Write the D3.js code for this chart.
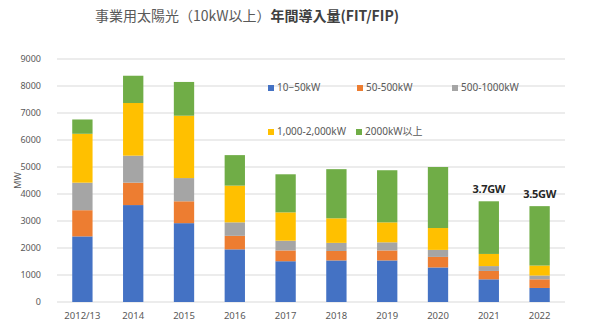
<!DOCTYPE html>
<html>
<head>
<meta charset="utf-8">
<script src="https://cdn.jsdelivr.net/npm/d3@7"></script>
<style>
  body { margin: 0; background: #fff; }
  svg text { font-family: "Noto Sans", "Noto Sans CJK JP", sans-serif; }
</style>
</head>
<body>
<svg id="chart" width="590" height="332"></svg>
<script>
// Data (MW)
const years = ['2012/13', '2014', '2015', '2016', '2017', '2018', '2019', '2020', '2021', '2022'];
const seriesNames = ['10−50kW', '50-500kW', '500-1000kW', '1,000-2,000kW', '2000kW以上'];
const s10_50 = [2430, 3590, 2920, 1950, 1510, 1540, 1540, 1280, 840, 520];
const s50_500 = [970, 830, 810, 500, 400, 350, 370, 390, 310, 320];
const s500_1000 = [1020, 1000, 860, 500, 360, 300, 300, 260, 180, 140];
const s1000_2000 = [1810, 1950, 2310, 1360, 1050, 910, 740, 810, 450, 370];
const s2000plus = [530, 1010, 1250, 1130, 1410, 1820, 1930, 2260, 1950, 2200];
const yTicks = [0, 1000, 2000, 3000, 4000, 5000, 6000, 7000, 8000, 9000];
const callouts = [{ year: '2021', text: '3.7GW' }, { year: '2022', text: '3.5GW' }];

const colors = ['#4472C4', '#ED7D31', '#A5A5A5', '#FFC000', '#70AD47'];
const allSeries = [s10_50, s50_500, s500_1000, s1000_2000, s2000plus];

const svg = d3.select('#chart');
const margin = { left: 57, right: 25, top: 59, bottom: 30 };
const W = 590, H = 332;

const rows = years.map((y, i) => {
  const r = { year: y };
  seriesNames.forEach((n, k) => { r[n] = allSeries[k][i]; });
  return r;
});
const stack = d3.stack().keys(seriesNames)(rows);

const x = d3.scaleBand().domain(years).range([margin.left, W - margin.right]).paddingInner(0.6).paddingOuter(0.3);
const y = d3.scaleLinear().domain([0, 9000]).range([H - margin.bottom, margin.top]);

// Title
const title = svg.append('text')
  .attr('x', 247).attr('y', 21)
  .attr('text-anchor', 'middle')
  .style('font-family', '"Noto Sans CJK JP", sans-serif')
  .attr('font-size', 14);
title.append('tspan').attr('fill', '#595959').text('事業用太陽光（10kW以上）');
title.append('tspan').attr('fill', '#404040').attr('font-weight', 'bold').text('年間導入量(FIT/FIP)');

// Grid
svg.append('g').selectAll('line').data(yTicks).join('line')
  .attr('x1', margin.left).attr('x2', W - margin.right)
  .attr('y1', d => y(d)).attr('y2', d => y(d))
  .attr('stroke', '#d9d9d9').attr('stroke-width', 1);

// Y axis labels
const yAxis = svg.append('g')
  .attr('transform', `translate(${margin.left},0)`)
  .call(d3.axisLeft(y).tickValues(yTicks).tickFormat(d3.format('d')).tickSize(0).tickPadding(16));
yAxis.select('.domain').remove();
yAxis.selectAll('text').attr('font-size', 9).attr('fill', '#595959');

svg.append('text')
  .attr('transform', `translate(21,${y(4500)}) rotate(-90)`)
  .attr('text-anchor', 'middle')
  .attr('font-size', 9).attr('fill', '#595959').text('MW');

// Bars
svg.append('g').selectAll('g').data(stack).join('g')
  .attr('fill', (d, i) => colors[i])
  .selectAll('rect').data(d => d).join('rect')
  .attr('x', d => x(d.data.year))
  .attr('width', x.bandwidth())
  .attr('y', d => y(d[1]))
  .attr('height', d => y(d[0]) - y(d[1]));

// X axis labels
const xAxis = svg.append('g')
  .attr('transform', `translate(0,${H - margin.bottom})`)
  .call(d3.axisBottom(x).tickSize(0).tickPadding(10));
xAxis.select('.domain').remove();
xAxis.selectAll('text').attr('font-size', 9.5).attr('fill', '#595959');

// Callouts
const total = years.map((yr, i) => d3.sum(allSeries, s => s[i]));
svg.append('g').selectAll('text').data(callouts).join('text')
  .attr('x', d => x(d.year) + x.bandwidth() / 2)
  .attr('y', d => y(total[years.indexOf(d.year)]) - 8)
  .attr('text-anchor', 'middle')
  .attr('font-size', 11).attr('font-weight', 'bold').attr('fill', '#262626')
  .attr('letter-spacing', -0.3)
  .text(d => d.text);

// Legend
const legendPos = [[268, 91], [357, 91], [452, 91], [268, 135], [356, 135]];
const legend = svg.append('g').selectAll('g').data(seriesNames).join('g')
  .attr('transform', (d, i) => `translate(${legendPos[i][0]},${legendPos[i][1]})`);
legend.append('rect').attr('x', 0).attr('y', -6).attr('width', 6).attr('height', 6)
  .attr('fill', (d, i) => colors[i]);
legend.append('text').attr('x', 9).attr('y', 0)
  .attr('font-size', 10).attr('fill', '#595959')
  .text(d => d);
</script>
</body>
</html>
